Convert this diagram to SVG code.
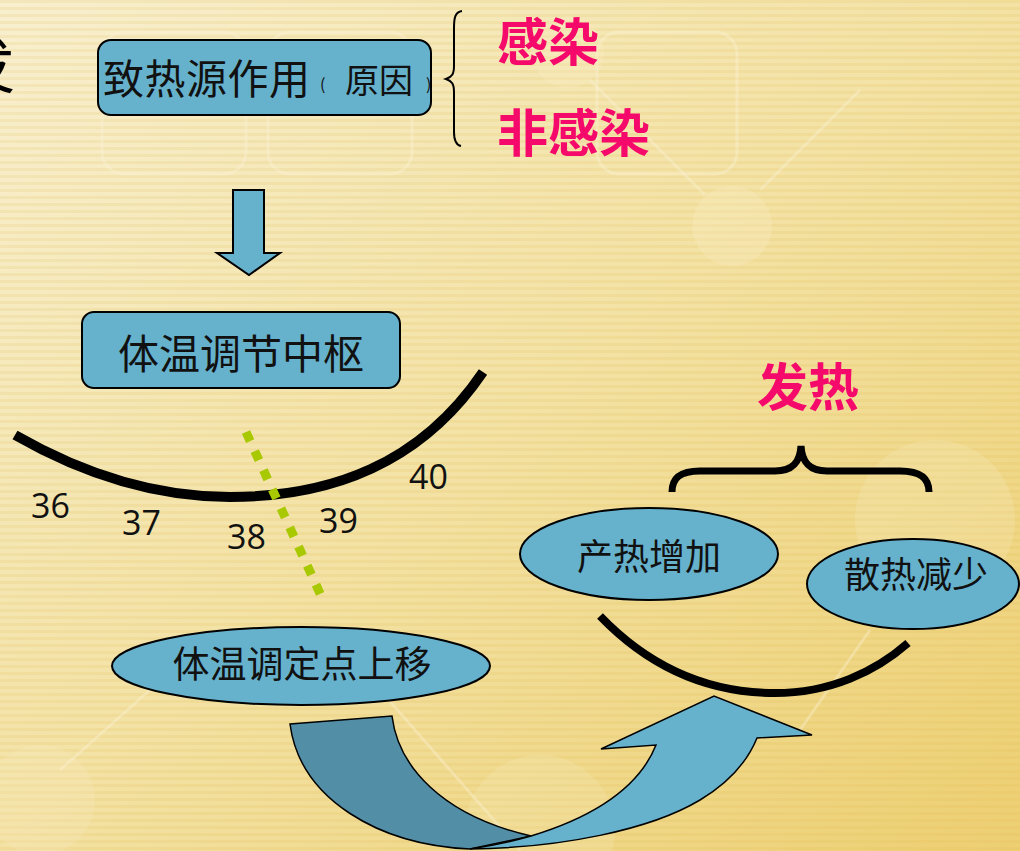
<svg xmlns="http://www.w3.org/2000/svg" width="1020" height="851" viewBox="0 0 1020 851">
<defs>
<linearGradient id="bg" x1="0" y1="0" x2="1" y2="1">
<stop offset="0" stop-color="#f8efcf"/>
<stop offset="0.5" stop-color="#f3e2a4"/>
<stop offset="1" stop-color="#edcf72"/>
</linearGradient>
<pattern id="stripes" width="20" height="7" patternUnits="userSpaceOnUse">
<rect x="0" y="0" width="20" height="3" fill="#d9b24a" fill-opacity="0.15"/>
</pattern>
<style>
.node{fill:#66b2cd;stroke:#000;stroke-width:2}
.lbl{font-family:"Noto Sans CJK SC","Noto Sans",sans-serif;fill:#111}
.pink{font-family:"Noto Sans CJK SC","Noto Sans",sans-serif;fill:#f50a6c;font-weight:bold}
.num{font-family:"Open Sans","Noto Sans",sans-serif;font-size:34px;fill:#111}
.deco{fill:none;stroke:#fbf3d9;stroke-opacity:0.35;stroke-width:3}
.arc{fill:none;stroke:#000;stroke-linecap:butt}
</style>
</defs>
<rect width="1020" height="851" fill="url(#bg)"/>
<rect width="1020" height="851" fill="url(#stripes)"/>
<g id="decoration">
<rect class="deco" x="102" y="32" width="144" height="142" rx="22"/>
<rect class="deco" x="268" y="32" width="144" height="142" rx="22"/>
<rect class="deco" x="597" y="32" width="140" height="142" rx="22"/>
<circle cx="732" cy="226" r="40" fill="#f8ecc0" fill-opacity="0.35"/>
<circle cx="568" cy="52" r="36" fill="#f8ecc0" fill-opacity="0.3"/>
<circle cx="935" cy="520" r="80" fill="#f8ecc0" fill-opacity="0.25"/>
<circle cx="540" cy="830" r="75" fill="#f8ecc0" fill-opacity="0.22"/>
<circle cx="40" cy="800" r="55" fill="#f8ecc0" fill-opacity="0.25"/>
<path class="deco" d="M590,80 L705,195 M860,90 L760,190 M60,770 L150,690 M380,690 L520,850 M870,630 L800,730"/>
</g>
<text x="-45" y="88" font-family="'Noto Sans CJK SC',sans-serif" font-size="60" fill="#000">发</text>
<g id="cause">
<rect class="node" x="98" y="40" width="333" height="75" rx="13"/>
<text class="lbl" x="103" y="94" font-size="41" letter-spacing="0.5">致热源作用</text>
<text class="lbl" x="320" y="90" font-size="16">(</text>
<text class="lbl" x="345" y="93" font-size="34">原因</text>
<text class="lbl" x="426" y="90" font-size="16">)</text>
</g>
<g id="brace1">
<path d="M462,11 C455,12 454,18 454,28 L454,66 C454,74 452,77 446,79 C452,81 454,84 454,92 L454,132 C454,141 456,145 461,146" fill="none" stroke="#000" stroke-width="2"/>
</g>
<g id="infection">
<text class="pink" x="497" y="61" font-size="51">感染</text>
</g>
<g id="noninfection">
<text class="pink" x="497" y="152" font-size="51">非感染</text>
</g>
<g id="connectors">
<path d="M233,190 L264,190 L264,253 L280,253 L249,275 L217,253 L233,253 Z" fill="#66b2cd" stroke="#000" stroke-width="2"/>
</g>
<g id="center">
<rect class="node" x="82" y="312" width="318" height="76" rx="12"/>
<text class="lbl" x="241" y="369" font-size="41" text-anchor="middle">体温调节中枢</text>
</g>
<g id="scale">
<path class="arc" d="M15,435 C90,478 160,497 230,497 C330,497 420,465 483,372" stroke-width="10"/>
<text class="num" x="31" y="518">36</text>
<text class="num" x="122" y="535">37</text>
<text class="num" x="227" y="549">38</text>
<text class="num" x="319" y="533">39</text>
<text class="num" x="409" y="489">40</text>
<path d="M246,432 L323,600" fill="none" stroke="#a8c800" stroke-width="9" stroke-dasharray="10 11"/>
</g>
<g id="setpoint">
<ellipse class="node" cx="301" cy="666" rx="189" ry="39"/>
<text class="lbl" x="302" y="678" font-size="37" text-anchor="middle">体温调定点上移</text>
</g>
<g id="fever">
<text class="pink" x="757" y="406" font-size="51">发热</text>
<path d="M672,492 C672,478 680,471 700,471 L775,471 C793,471 800,462 801,446 C802,462 809,471 827,471 L900,471 C920,471 929,478 929,492" fill="none" stroke="#000" stroke-width="7"/>
</g>
<g id="heatprod">
<ellipse class="node" cx="649" cy="554" rx="129" ry="46"/>
<text class="lbl" x="649" y="570" font-size="36" text-anchor="middle">产热增加</text>
</g>
<g id="heatloss">
<ellipse class="node" cx="913" cy="584" rx="106" ry="45"/>
<text class="lbl" x="916" y="588" font-size="36" text-anchor="middle">散热减少</text>
</g>
<g id="connectors2">
<path class="arc" d="M600,616 C650,668 710,693 775,693 C830,693 875,672 908,643" stroke-width="8"/>
<path d="M290,724 L392,716 C398,765 440,815 531,836 L470,849 C380,845 300,800 290,724 Z" fill="#528ea6" stroke="#000" stroke-width="1.5"/>
<path d="M470,849 C560,848 650,830 700,800 C730,782 748,760 757,738 L812,735 L714,696 L601,749 L656,745 C640,785 600,815 531,836 C510,842 490,846 470,849 Z" fill="#66b2cd" stroke="#000" stroke-width="1.5"/>
</g>
</svg>
